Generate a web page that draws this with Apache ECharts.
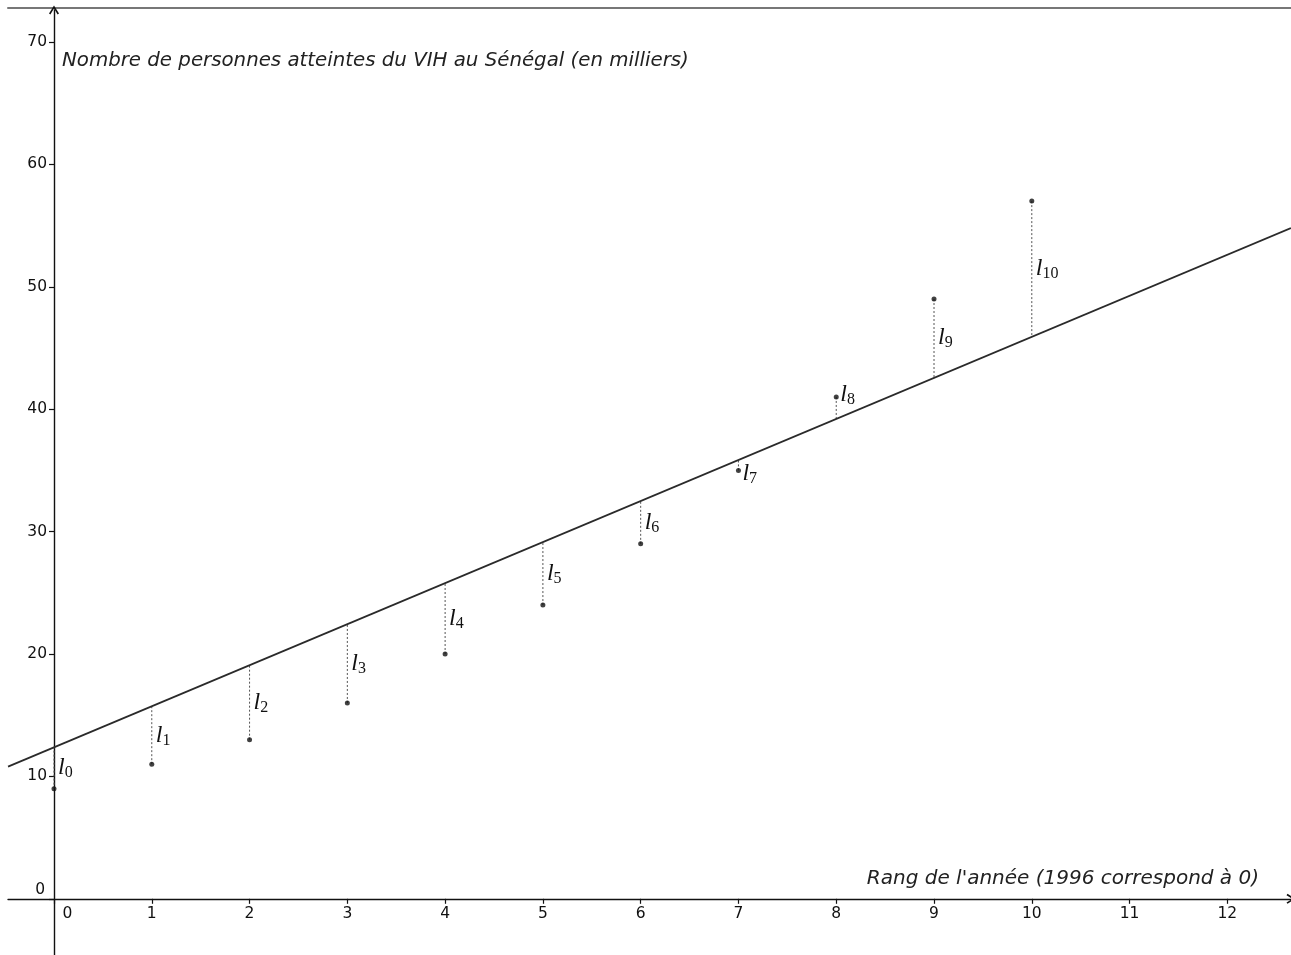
<!DOCTYPE html>
<html>
<head>
<meta charset="utf-8">
<script src="https://cdn.jsdelivr.net/npm/echarts@6/dist/echarts.min.js"></script>
<style>html,body{margin:0;padding:0;background:#fff}#c{width:1291px;height:955px}</style>
</head>
<body>
<div id="c"></div>
<script>
// ---- data ----
const years = [0, 1, 2, 3, 4, 5, 6, 7, 8, 9, 10];
const cases = [9, 11, 13, 16, 20, 24, 29, 35, 41, 49, 57];
const fitted = [12.4, 15.7, 19.1, 22.4, 25.8, 29.1, 32.5, 35.8, 39.2, 42.6, 45.9];
const regLine = [[-0.47, 10.8], [12.65, 54.8]];
const xTickLabels = [0, 1, 2, 3, 4, 5, 6, 7, 8, 9, 10, 11, 12];
const yTickLabels = [0, 10, 20, 30, 40, 50, 60, 70];
const yTitle = "Nombre de personnes atteintes du VIH au Sénégal (en milliers)";
const xTitle = "Rang de l'année (1996 correspond à 0)";

// ---- style ----
const LABEL_NUDGE = {7: 8, 8: -13};
const tickFont = 'DejaVu Sans';
const arrow = 'path://M5,0 L10,8 L8.6,9 L5,3 L1.4,9 L0,8 Z';

const chart = echarts.init(document.getElementById('c'), null, {renderer: 'canvas'});
const segData = years.map((x, i) => [x, cases[i], fitted[i], i]);

const option = {
  animation: false,
  backgroundColor: '#fff',
  title: [
    {text: yTitle, left: 57, top: 46,
     textStyle: {fontFamily: tickFont, fontStyle: 'italic', fontWeight: 'normal', fontSize: 19.8, color: '#222'}},
    {text: xTitle, right: 27, top: 864,
     textStyle: {fontFamily: tickFont, fontStyle: 'italic', fontWeight: 'normal', fontSize: 20, color: '#222'}}
  ],
  grid: {left: 8, top: 10, width: 1283, height: 945, containLabel: false, outerBoundsMode: 'none'},
  xAxis: [{
    type: 'value', min: -0.4704, max: 12.651, position: 'bottom', offset: -56.2,
    axisLine: {onZero: false, symbol: ['none', arrow], symbolSize: [11, 9],
               lineStyle: {color: '#111', width: 1.4}},
    axisTick: {show: true, length: 5, customValues: xTickLabels, lineStyle: {color: '#111', width: 1.2}},
    axisLabel: {customValues: xTickLabels, margin: 7, fontFamily: tickFont, fontSize: 15.5, color: '#111',
                formatter: v => v === 0 ? '{z|0}' : String(v),
                rich: {z: {padding: [0, 0, 0, 27], fontFamily: tickFont, fontSize: 15.5, color: '#111'}}},
    splitLine: {show: false}
  }, {
    type: 'value', position: 'top', min: -0.4704, max: 12.651, offset: 2,
    axisLine: {show: true, onZero: false, lineStyle: {color: '#777', width: 2}},
    axisTick: {show: false}, axisLabel: {show: false}, splitLine: {show: false}
  }],
  yAxis: {
    type: 'value', min: -4.59, max: 72.61, position: 'left', offset: -46,
    axisLine: {onZero: false, symbol: ['none', arrow], symbolSize: [11, 9],
               lineStyle: {color: '#111', width: 1.4}},
    axisTick: {show: true, length: 5, customValues: yTickLabels, lineStyle: {color: '#111', width: 1.2}},
    axisLabel: {customValues: yTickLabels, margin: 7, fontFamily: tickFont, fontSize: 15.5, color: '#111',
                formatter: v => v === 0 ? '{z|0}' : String(v),
                rich: {z: {padding: [0, 2, 18, 0], fontFamily: tickFont, fontSize: 15.5, color: '#111'}}},
    splitLine: {show: false}
  },
  series: [
    {
      type: 'line', data: regLine, showSymbol: false, silent: true,
      lineStyle: {color: '#2a2a2a', width: 1.7}, z: 3
    },
    {
      type: 'custom', data: segData, z: 2, silent: true,
      renderItem: function (params, api) {
        const x = api.value(0), y = api.value(1), f = api.value(2), i = api.value(3);
        const p = api.coord([x, y]);
        const q = api.coord([x, f]);
        const m = api.coord([x, (y + f) / 2]);
        const nudge = LABEL_NUDGE[i] || 0;
        return {
          type: 'group',
          children: [
            {type: 'line', shape: {x1: p[0], y1: p[1], x2: q[0], y2: q[1]},
             style: {stroke: '#555', lineWidth: 1, lineDash: [2, 2]}},
            {type: 'text', x: m[0] + 4, y: m[1] + nudge,
             style: {
               text: '{l|l}{s|' + i + '}',
               verticalAlign: 'middle', align: 'left',
               rich: {
                 l: {fontFamily: 'Liberation Serif', fontStyle: 'italic', fontSize: 24, lineHeight: 26, fill: '#111'},
                 s: {fontFamily: 'Liberation Serif', fontSize: 16, lineHeight: 14, verticalAlign: 'bottom', fill: '#111'}
               }
             }}
          ]
        };
      }
    },
    {
      type: 'scatter', data: years.map((x, i) => [x, cases[i]]),
      symbol: 'circle', symbolSize: 5, itemStyle: {color: '#111'}, z: 4, silent: true
    }
  ]
};
chart.setOption(option);
</script>
</body>
</html>
